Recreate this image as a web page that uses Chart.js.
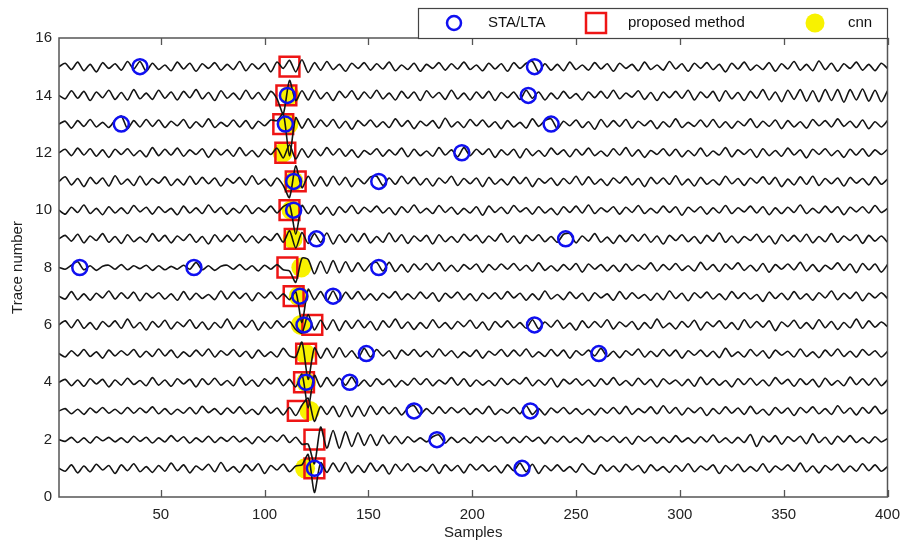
<!DOCTYPE html>
<html>
<head>
<meta charset="utf-8">
<script src="https://cdn.jsdelivr.net/npm/chart.js@4.4.1/dist/chart.umd.min.js"></script>
<style>
  html, body { margin: 0; padding: 0; background: #fff; }
  #wrap { width: 904px; height: 544px; }
</style>
</head>
<body>
<div id="wrap"><canvas id="traceChart" width="904" height="544"></canvas></div>
<script>
// tick labels
const xTicks = [50, 100, 150, 200, 250, 300, 350, 400];
const yTicks = [0, 2, 4, 6, 8, 10, 12, 14, 16];

// one value every 3 samples (x = 1, 4, 7, ... 400), in fiftieths of a trace spacing
const tr1 = [0,-5,6,-8,4,-6,7,-3,5,-9, 6,-4,8,-6,3,-7,5,-5,9,-4, 6,-8,4,-3,7,-6,10,-5,3,-7,
  6,-4,8,-9,5,-3,7,-6,4,6, 24,-42,10,-7,9,-6,10,-8,5,-7, 9,-5,6,-10,7,-4,8,-6,3,-5,
  7,-9,6,-4,5,-8,7,-3,6,-5, 4,-8,6,-4,9,-6,7,-9,5,-4, 6,-5,3,-7,8,-4,-10,6,-5,4,
  -6,7,-3,5,-8,6,-4,3,-7,5, -5,8,-6,4,-3,6,-9,5,-4,7, -6,3,-5,8,-7,4,-3,6,-5,9,
  -6,4,-8,5,-3,7,-6,4,-5,8, -4,6,-5,3];
const tr2 = [0,-3,4,-5,3,-6,5,-2,4,-4, 3,-5,6,-3,4,-6,3,-4,7,-3, 5,-6,3,-4,6,-5,4,-3,6,-4,
  3,-7,5,-4,6,-3,8,-5,4,-8, -8,-42,22,-15,16,-15,14,-12,12,-10, 9,-10,8,-7,6,-7,5,-4,3,-4,
  5,8,-6,4,-5,3,-6,5,-4,6, -3,5,-6,4,-5,6,-3,4,-7,5, -4,6,-5,3,-6,7,-4,5,-3,6,
  -5,4,-8,6,-3,5,-6,4,-5,7, -4,3,-6,5,-4,8,-5,3,-6,4, -5,9,-12,6,-4,7,-8,5,-3,6,
  -7,10,-5,4,-8,6,-4,7,-5,3, -6,5,-4,2];
const tr3 = [0,4,-5,3,-6,5,-3,6,-4,3, -5,6,-4,5,-3,7,-5,4,-6,3, -4,6,-5,8,-3,4,-6,5,-4,7,
  -5,3,-6,8,-4,5,-7,6,-8,10, 22,-18,8,-6,8,-10,9,-10,8,-9, 9,-6,7,-5,6,-7,5,9,-6,4,
  -5,7,-4,6,-3,5,-6,4,-5,8, -6,3,-4,6,-5,9,-6,4,-7,5, -3,6,-5,4,-6,3,-7,5,-4,6,
  -5,8,-6,4,-3,7,-5,9,-4,6, -7,5,-3,6,-8,4,-5,7,-4,5, -6,8,-5,3,-7,6,-4,5,-8,6,
  -3,7,-5,4,-6,9,-4,5,-7,6, -4,8,-5,3];
const tr4 = [0,5,-6,4,-7,6,-3,5,-8,4, -5,7,-4,3,-6,8,-5,4,-7,6, -3,5,-8,6,-4,7,-5,3,-6,9,
  -5,4,-7,6,-3,8,-6,5,-8,14, -45,12,-8,8,-6,7,-5,9,-6,4, -7,6,-4,5,-8,3,-5,7,-4,6,
  -6,4,-3,8,-5,6,-7,4,-5,3, -6,7,-4,5,-3,8,-6,4,-5,7, -8,5,-3,6,-5,4,-7,6,-4,8,
  -5,3,-6,7,-4,5,-8,6,-3,4, -6,5,-7,9,-4,6,-5,3,-8,6, -4,7,-5,4,-6,8,-3,5,-7,6,
  -4,5,-8,7,-5,3,-6,9,-4,6, -5,7,-6,4];
const tr5 = [0,-6,5,-4,7,-5,3,-8,6,-4, 5,-3,7,-6,4,-5,8,-4,6,-7, 3,-5,6,-4,8,-6,5,-3,7,-5,
  4,-8,6,-5,3,-6,9,-4,-6,20, -45,10,-8,9,-7,10,-6,5,-8,9, -6,7,-4,5,-9,6,-3,7,-5,4,
  -6,8,-4,5,-7,3,-5,6,-8,4, -3,7,-5,6,-4,8,-6,3,-5,7, -4,6,-8,5,-3,6,-4,9,-5,4,
  -7,5,-3,8,-6,4,-5,7,-4,6, -8,5,-3,6,-5,4,-7,9,-5,3, -6,7,-4,5,-8,6,-3,4,-6,8,
  -5,3,-7,6,-4,8,-5,4,-6,7, -3,5,-6,4];
const tr6 = [0,7,-5,9,-6,4,-8,6,-3,7, -6,10,-5,4,-9,6,-4,8,-7,5, -3,9,-6,5,-8,4,-5,10,-7,6,
  -4,8,-9,5,-6,7,-4,6,-8,-14, 18,-9,8,-8,9,-10,7,-6,8,-5, 6,-9,7,-4,10,-6,5,-8,4,-6,
  9,-5,4,-7,6,-3,8,-6,5,-9, 6,-4,7,-5,4,-6,9,-7,5,-4, 8,-6,3,-9,7,-5,6,-4,9,-7,
  5,-3,6,-8,4,-6,10,-5,3,-7, 6,-4,8,-9,5,-3,7,-6,4,-8, 9,-5,6,-4,7,-10,5,-3,8,-6,
  4,-7,9,-5,6,-8,4,-5,10,-6, 7,-4,5,-3];
const tr7 = [0,-5,8,-6,4,-7,5,-3,9,-5, 6,-4,7,-8,5,-3,6,-5,4,-7, 8,-6,5,-4,3,-6,9,-5,7,-4,
  5,-8,6,-3,7,-5,4,-6,8,-46, 12,-6,8,-8,9,-9,7,-5,8,-6, 4,-7,5,-3,8,-6,4,-5,7,-4,
  6,-9,5,-3,7,-6,4,-8,5,-4, 6,-5,8,-3,5,-7,4,-6,9,-5, 3,-6,7,-4,5,-8,6,-3,4,-7,
  8,-5,6,-4,3,-7,5,-6,9,-4, 5,-8,6,-3,7,-5,4,-6,8,-4, 6,-5,3,-9,7,-4,5,-6,8,-5,
  4,-7,6,-3,9,-6,5,-4,7,-8, 5,-3,6,-4];
const tr8 = [0,-3,4,10,-4,3,-5,2,4,-3, 5,-4,3,-2,4,-5,3,-4,2,-3, 4,-3,9,-4,3,-5,2,4,-3,5,
  -4,3,-6,4,-3,5,-4,-6,-26,16, 14,-11,11,-10,12,-9,10,-7,8,-6, 6,9,-6,9,-7,5,-8,6,-4,7,
  -5,8,-6,4,-7,5,-3,6,-8,5, -4,6,-3,7,-5,4,-6,8,-5,3, -6,5,-4,7,-8,6,-3,5,-6,4,
  -7,6,-5,4,-3,8,-6,5,-4,7, -5,3,-6,9,-4,5,-7,6,-3,8, -5,4,-6,7,-8,5,-3,6,-4,9,
  -6,5,-7,4,-3,8,-5,6,-9,7, -4,6,-8,5];
const tr9 = [0,6,-4,8,-7,5,-3,9,-6,4, -8,7,-5,3,-6,9,-4,6,-7,5, -3,8,-6,4,-9,7,-5,6,-4,8,
  -6,5,-7,4,-3,9,-6,14,-16,11, -8,9,-6,10,-9,7,-6,8,-5,9, -7,4,-6,10,-5,7,-8,5,-4,6,
  -9,7,-5,4,-6,8,-3,6,-7,5, -4,9,-6,5,-8,6,-3,7,-5,4, -6,8,9,-7,5,-4,9,-6,3,-8,
  6,-5,7,-4,8,-6,5,-9,6,-3, 7,-5,4,-8,6,-4,10,-6,5,-7, 4,-3,8,-6,5,-9,7,-4,6,-5,
  8,-7,4,-5,9,-6,5,-3,7,-8, 6,-4,5,-6];
const tr10 = [0,-7,5,-4,9,-6,3,-8,6,-5, 4,-6,8,-3,5,-7,6,-4,3,-8, 7,-5,4,-6,9,-4,5,-7,3,-5,
  8,-6,4,-3,7,-5,6,10,-42,8, -6,8,-7,5,-9,6,-4,8,-6,5, -3,7,-5,4,-8,6,-4,9,-5,3,
  -6,8,-4,5,-7,3,-5,6,-9,7, -4,5,-6,8,-3,4,-7,6,-5,3, -8,6,-4,7,-5,9,-6,4,-3,6,
  -7,5,-4,8,-6,3,-5,7,-4,6, -9,5,-3,6,-7,4,-5,8,-6,4, -3,7,-5,6,-8,4,-6,5,-4,9,
  -6,3,-5,7,-4,6,-8,5,-3,6, -5,8,-4,3];
const tr11 = [0,8,-6,5,-9,7,-4,6,-8,10, -5,4,-7,9,-6,5,-3,8,-7,4, -6,9,-5,7,-4,6,-8,5,-3,7,
  -6,10,-5,4,-8,6,-7,-28,27,-11, 9,-8,8,-8,9,-6,7,-9,5,-4, 8,9,-7,6,-5,9,-4,7,-6,5,
  -8,6,-3,9,-7,5,-4,6,-9,7, -5,4,-6,8,-4,7,-9,5,-3,6, -7,5,-4,9,-6,8,-5,4,-7,6,
  -3,8,-6,5,-9,7,-4,6,-5,10, -6,4,-8,7,-5,3,-6,9,-4,5, -7,6,-3,8,-5,7,-9,4,-6,8,
  -5,9,-7,5,-4,6,-8,7,-3,5, -6,8,-5,4];
const tr12 = [0,6,-5,8,-4,7,-6,5,-8,6, -3,7,-5,4,-7,9,-5,6,-4,8, -6,5,-3,7,-8,6,-4,5,-6,9,
  -5,4,-7,6,-3,8,-9,14,-11,7, -8,6,-5,9,-4,7,-6,5,-8,4, -3,7,-6,5,-4,8,-7,6,-5,3,
  -6,9,-4,5,-7,9,-5,6,-3,7, -8,5,-4,6,-9,7,-5,4,-6,8, -3,5,-7,6,-4,8,-5,3,-6,7,
  -4,9,-6,5,-8,4,-3,7,-5,6, -7,4,-5,8,-6,3,-4,9,-7,5, -3,6,-8,7,-5,4,-6,8,-4,5,
  -9,6,-3,7,-5,4,-8,6,-4,7, -6,5,-3,6];
const tr13 = [0,5,-7,6,-4,8,-5,3,-6,7, 14,-8,6,-5,8,-4,7,-6,5,-3, 8,-7,4,-5,9,-6,3,-4,7,-5,
  6,-8,5,-3,7,6,18,-55,11,-7, 9,-6,7,-4,8,-7,5,-9,6,-3, 7,-5,4,-6,9,-4,6,-8,5,-3,
  6,-7,10,-5,4,-6,8,-3,7,-5, 4,-8,6,-5,3,-7,9,-4,6,9, -8,5,-3,7,-6,4,-9,8,-5,6,
  -4,8,-7,5,-3,6,-8,4,-5,9, -6,3,-4,7,-5,8,-6,4,-7,5, -3,9,-6,5,-4,7,-8,6,-5,4,
  -7,8,-3,6,-5,9,-4,5,-6,7, -8,4,-5,6];
const tr14 = [0,-6,8,-5,7,-9,6,-4,9,-7, 5,-8,10,-6,4,-7,9,-5,6,-8, 7,-4,10,-6,5,-9,8,-5,4,-7,
  9,-6,5,-8,7,-6,-32,26,-9,8, -8,9,-6,5,-9,7,-4,8,-7,6, -5,9,-6,4,-8,7,-5,6,-9,8,
  -4,5,-7,9,-6,4,-8,6,-5,7, -9,5,-4,6,-7,9,-5,6,-8,4, -6,7,-5,3,-8,6,-4,7,-5,9,
  -6,4,-3,8,-7,5,-9,6,-4,7, -5,9,-8,6,-4,7,-10,8,-6,5, -9,7,-5,10,-8,6,-11,9,-7,10,
  -10,8,-11,10,-9,10,-12,10,-8,11, -10,9,-11,8];
const tr15 = [0,6,-5,8,-7,4,-9,7,-3,5, -6,9,-4,9,-8,6,-5,3,-7,8, -4,6,-8,5,-3,7,-6,4,-5,9,
  -7,5,-4,6,-9,8,-3,11,-9,12, -10,7,-6,9,-5,4,-8,6,-3,7, -6,5,-4,8,-7,3,-5,6,-8,4,
  -3,7,-6,5,-4,8,-5,3,-7,6, -4,5,-8,7,-3,6,9,-9,5,-6, 4,-7,8,-5,3,-6,7,-4,5,-8,
  6,-3,4,-7,8,-5,3,-6,9,-4, 5,-8,6,-3,7,-5,4,-9,6,-4, 8,-6,3,-5,7,-8,5,-4,9,-6,
  4,-7,10,-5,6,-8,5,-3,8,-6, 4,-7,6,-3];
const traces = [tr1, tr2, tr3, tr4, tr5, tr6, tr7, tr8, tr9, tr10, tr11, tr12, tr13, tr14, tr15];

// picks (sample, trace number)
const staSample = [40, 230, 111, 227, 31, 110, 238, 195, 114, 155, 114, 125, 245, 11, 66, 155,
  117, 133, 119, 230, 149, 261, 120, 141, 172, 228, 183, 124, 224];
const staTrace  = [15, 15, 14, 14, 13, 13, 13, 12, 11, 11, 10, 9, 9, 8, 8, 8,
  7, 7, 6, 6, 5, 5, 4, 4, 3, 3, 2, 1, 1];
const propSample = [124, 124, 116, 119, 120, 123, 114, 111, 114.5, 112, 115, 110, 109, 110.5, 112];
const propTrace  = [1, 2, 3, 4, 5, 6, 7, 8, 9, 10, 11, 12, 13, 14, 15];
const cnnSample = [119.5, 121.7, 120, 119.5, 117.5, 116.5, 117.7, 113.5, 113, 114, 108.7, 111.5, 112];
const cnnTrace  = [1, 3, 4, 5, 6, 7, 8, 9, 10, 11, 12, 13, 14];

const FONT = '"Liberation Sans", Arial, sans-serif';

function pairs(xs, ys) {
    return xs.map((x, i) => ({ x: x, y: ys[i] }));
}

const datasets = [];

datasets.push({
    label: 'STA/LTA',
    type: 'scatter',
    data: pairs(staSample, staTrace),
    pointStyle: 'circle',
    pointRadius: 7.5,
    pointBorderWidth: 2.5,
    pointBorderColor: '#1010f0',
    pointBackgroundColor: 'rgba(0,0,0,0)',
    order: 0,
});

traces.forEach((amp, k) => {
    datasets.push({
        label: 'trace ' + (k + 1),
        type: 'line',
        data: amp.map((v, i) => ({ x: 1 + 3 * i, y: k + 1 + v / 50 })),
        borderColor: '#141414',
        borderWidth: 1.6,
        pointRadius: 0,
        tension: 0.25,
        fill: false,
        order: 1,
    });
});

datasets.push({
    label: 'proposed method',
    type: 'scatter',
    data: pairs(propSample, propTrace),
    pointStyle: 'rect',
    pointRadius: 14,
    pointBorderWidth: 2.5,
    pointBorderColor: '#ee1515',
    pointBackgroundColor: 'rgba(0,0,0,0)',
    order: 2,
});

datasets.push({
    label: 'cnn',
    type: 'scatter',
    data: pairs(cnnSample, cnnTrace),
    pointStyle: 'circle',
    pointRadius: 10,
    pointBorderWidth: 0,
    pointBackgroundColor: '#f8f200',
    order: 3,
});

// box, inward ticks and the legend in the MATLAB style
const frameAndLegend = {
    id: 'frameAndLegend',
    afterDraw(chart) {
        const ctx = chart.ctx;
        const a = chart.chartArea;
        const xs = chart.scales.x;
        ctx.save();
        ctx.strokeStyle = '#555';
        ctx.lineWidth = 1.5;
        ctx.strokeRect(a.left, a.top, a.right - a.left, a.bottom - a.top);
        ctx.lineWidth = 1.3;
        xTicks.forEach(v => {
            const px = Math.round(xs.getPixelForValue(v)) + 0.5;
            ctx.beginPath();
            ctx.moveTo(px, a.bottom);
            ctx.lineTo(px, a.bottom - 7);
            ctx.moveTo(px, a.top);
            ctx.lineTo(px, a.top + 7);
            ctx.stroke();
        });

        // legend box
        ctx.fillStyle = '#fff';
        ctx.fillRect(418, 8, 469, 30);
        ctx.strokeStyle = '#444';
        ctx.lineWidth = 1.2;
        ctx.strokeRect(418.5, 8.5, 469, 30);

        ctx.font = '15px ' + FONT;
        ctx.fillStyle = '#111';
        ctx.textBaseline = 'middle';
        ctx.textAlign = 'left';

        ctx.strokeStyle = '#1010f0';
        ctx.lineWidth = 2.5;
        ctx.beginPath();
        ctx.arc(454, 23, 7, 0, Math.PI * 2);
        ctx.stroke();
        ctx.fillText('STA/LTA', 488, 23);

        ctx.strokeStyle = '#ee1515';
        ctx.strokeRect(586, 13, 20, 20);
        ctx.fillText('proposed method', 628, 23);

        ctx.fillStyle = '#f8f200';
        ctx.beginPath();
        ctx.arc(815, 23, 9.5, 0, Math.PI * 2);
        ctx.fill();
        ctx.fillStyle = '#111';
        ctx.fillText('cnn', 848, 23);
        ctx.restore();
    }
};

new Chart(document.getElementById('traceChart'), {
    type: 'line',
    data: { datasets: datasets },
    plugins: [frameAndLegend],
    options: {
        responsive: false,
        animation: false,
        layout: { padding: { left: 0, right: 15, top: 38, bottom: 0 } },
        plugins: {
            legend: { display: false },
            tooltip: { enabled: false },
        },
        scales: {
            x: {
                type: 'linear',
                min: 1,
                max: 400,
                afterBuildTicks: s => { s.ticks = xTicks.map(v => ({ value: v })); },
                afterFit: s => { s.height = 47; s.paddingLeft = 0; s.paddingRight = 0; },
                grid: { display: false, drawTicks: false },
                border: { display: false },
                ticks: { color: '#222', padding: 9, font: { family: FONT, size: 15 } },
                title: {
                    display: true,
                    text: 'Samples',
                    color: '#222',
                    font: { family: FONT, size: 15 },
                    padding: { top: 0, bottom: 2 },
                },
            },
            y: {
                type: 'linear',
                min: 0,
                max: 16,
                afterBuildTicks: s => { s.ticks = yTicks.map(v => ({ value: v })); },
                afterFit: s => { s.width = 59; s.paddingTop = 0; s.paddingBottom = 0; },
                grid: { display: false, drawTicks: false },
                border: { display: false },
                ticks: { color: '#222', padding: 7, font: { family: FONT, size: 15 } },
                title: {
                    display: true,
                    text: 'Trace number',
                    color: '#222',
                    font: { family: FONT, size: 15 },
                    padding: { top: 9, bottom: 0 },
                },
            },
        },
    },
});
</script>
</body>
</html>
